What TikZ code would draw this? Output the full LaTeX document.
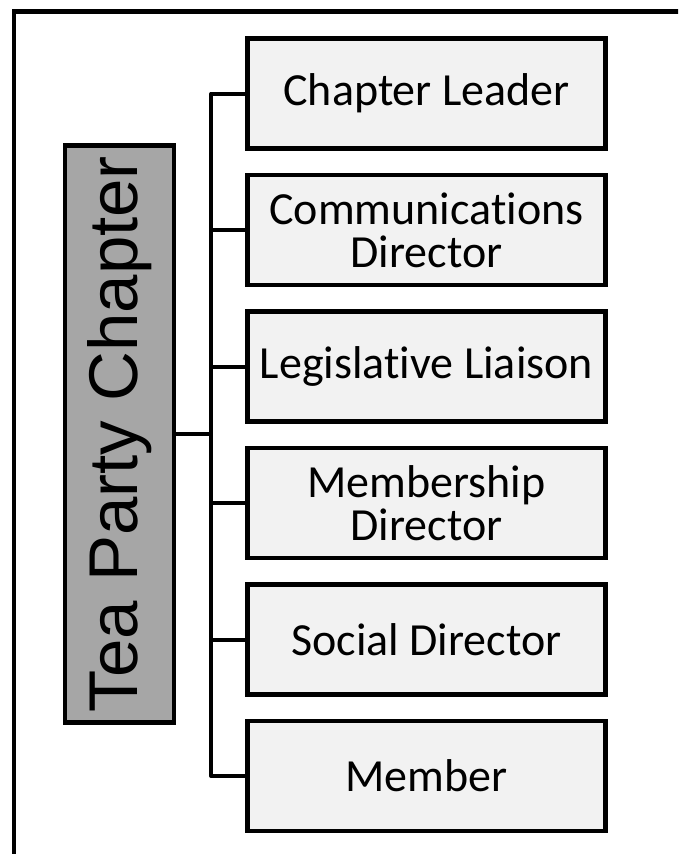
\documentclass[tikz,border=0pt]{standalone}
\usepackage{fontspec}
\setmainfont{Carlito}[RawFeature=-liga]
\newfontfamily\rootfont{Liberation Sans}
\usetikzlibrary{positioning}
\definecolor{rolefill}{HTML}{F2F2F2}
\definecolor{rootfill}{HTML}{A6A6A6}

\begin{document}
\begin{tikzpicture}[x=1pt,y=-1pt,
    role/.style={draw,line width=4.5pt,fill=rolefill,minimum width=358pt,minimum height=110pt,
      align=center,inner sep=0pt,font=\fontsize{46}{43}\selectfont},
    chapter/.style={draw,line width=4.5pt,fill=rootfill,minimum width=577pt,minimum height=109pt,
      rotate=90,inner sep=0pt,font=\rootfont\fontsize{69}{72}\selectfont},
    link/.style={line width=4pt,line join=round},
    node distance=22pt]
  \useasboundingbox (0,0) rectangle (678,854);
  \clip (0,0) rectangle (678,854);
  % outer frame, cut by the page
  \draw[line width=4.5pt] (14,900) -- (14,11.7) -- (720,11.7);

  \node[chapter] (root) at (119.5,434) {Tea Party Chapter};

  \node[role] (c1) at (426.5,93.5) {Chapter Leader};
  \node[role,below=of c1] (c2) {Communications\\Director};
  \node[role,below=of c2] (c3) {Legislative Liaison};
  \node[role,below=of c3] (c4) {Membership\\Director};
  \node[role,below=of c4] (c5) {Social Director};
  \node[role,below=of c5] (c6) {Member};

  \coordinate (trunk) at (211.3,434);
  \draw[link] (root.south) -- (trunk);
  \foreach \i in {1,...,6}
    \draw[link] (c\i.west) -| (trunk);
\end{tikzpicture}
\end{document}
